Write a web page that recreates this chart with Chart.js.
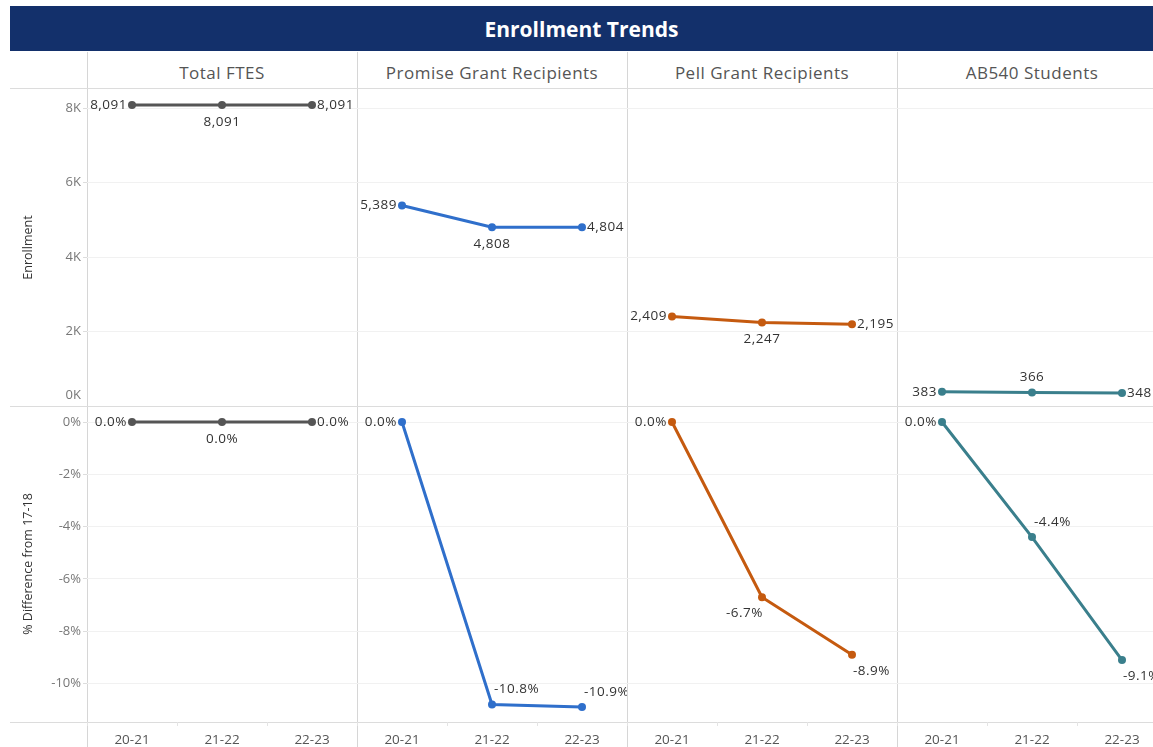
<!DOCTYPE html>
<html lang="en">
<head>
  <meta charset="UTF-8" />
  <title>Enrollment Trends</title>
  <script src="https://cdn.jsdelivr.net/npm/chart.js@4.4.0/dist/chart.umd.min.js"></script>
  <style>
    html,body{margin:0;background:#fff;font-family:"Open Sans",sans-serif}
    #board{position:relative;width:1153px;height:747px;overflow:hidden}
    .title{position:absolute;left:10px;top:6px;width:1143px;height:45px;background:#13306b;color:#fff;
      font-weight:700;font-size:21px;line-height:46px;text-align:center}
    .head{position:absolute;top:52px;width:270px;height:37px;line-height:42px;text-align:center;color:#555;
      font-size:17px;letter-spacing:.5px}
    .vline{position:absolute;width:1px;background:#d6d6d6}
    .hline{position:absolute;height:1px;background:#dcdcdc}
    canvas{position:absolute}
  </style>
</head>
<body>
<div id="board">
  <div class="title">Enrollment Trends</div>
</div>

<script>
// ---- data ----
const years = ['20-21', '21-22', '22-23'];
const groups = ['Total FTES', 'Promise Grant Recipients', 'Pell Grant Recipients', 'AB540 Students'];

const fteEnroll     = [8091, 8091, 8091];
const promiseEnroll = [5389, 4808, 4804];
const pellEnroll    = [2409, 2247, 2195];
const ab540Enroll   = [383, 366, 348];

const ftePct     = [0.0, 0.0, 0.0];
const promisePct = [0.0, -10.8, -10.9];
const pellPct    = [0.0, -6.7, -8.9];
const ab540Pct   = [0.0, -4.4, -9.1];

const enrollTicks = [0, 2000, 4000, 6000, 8000];
const enrollTickLabels = ['0K', '2K', '4K', '6K', '8K'];
const pctTicks = [0, -2, -4, -6, -8, -10];
const pctTickLabels = ['0%', '-2%', '-4%', '-6%', '-8%', '-10%'];

// ---- look ----
const colors = ['#555555', '#2f6fcb', '#c55a0f', '#3a7f8c'];
const topPlaces = [['l','b','r'], ['l','b','r'], ['l','b','r'], ['l','a','r']];
const botPlaces = [['l','b','r'], ['l','ar','ar'], ['l','bl','br'], ['l','ar','br']];

const board = document.getElementById('board');
const COL0 = 87, COLW = 270, AXISW = 77;
const ROWS = [{top: 89, h: 317}, {top: 406, h: 341}];

// frame lines
[87, 357, 627, 897].forEach(x => {
  const d = document.createElement('div'); d.className = 'vline';
  d.style.cssText = `left:${x}px;top:52px;height:695px`; board.appendChild(d);
});
[88, 406, 722].forEach(y => {
  const d = document.createElement('div'); d.className = 'hline';
  d.style.cssText = `left:10px;top:${y}px;width:1143px`; board.appendChild(d);
});
groups.forEach((g, i) => {
  const d = document.createElement('div'); d.className = 'head';
  d.style.left = (COL0 + i * COLW) + 'px'; d.textContent = g; board.appendChild(d);
});

// data labels next to each point
const pointLabels = {
  id: 'pointLabels',
  afterDatasetsDraw(chart, args, opts) {
    const ctx = chart.ctx, meta = chart.getDatasetMeta(0), vals = chart.data.datasets[0].data;
    ctx.save();
    ctx.font = '13.5px "Open Sans"';
    ctx.letterSpacing = '0.5px';
    ctx.fillStyle = '#333';
    ctx.textBaseline = 'middle';
    meta.data.forEach((pt, i) => {
      let x = pt.x, y = pt.y, align = 'center';
      switch (opts.places[i]) {
        case 'l':  x -= 5; align = 'right'; break;
        case 'r':  x += 5; align = 'left'; break;
        case 'b':  y += 17; break;
        case 'a':  y -= 15; break;
        case 'ar': x += 2; y -= 15; align = 'left'; break;
        case 'br': x += 1; y += 16; align = 'left'; break;
        case 'bl': x += 1; y += 16; align = 'right'; break;
      }
      ctx.textAlign = align;
      const v = vals[i];
      ctx.fillText(opts.kind === 'pct' ? v.toFixed(1) + '%' : v.toLocaleString('en-US'), x, y);
    });
    ctx.restore();
  }
};

function makeChart(row, col, values, places) {
  const first = col === 0;
  const left = first ? COL0 - AXISW : COL0 + col * COLW;
  const width = first ? COLW + AXISW : COLW;
  const R = ROWS[row];
  const cv = document.createElement('canvas');
  cv.width = width; cv.height = R.h;
  cv.style.left = left + 'px'; cv.style.top = R.top + 'px';
  board.appendChild(cv);

  const isPct = row === 1;
  const tickVals = isPct ? pctTicks : enrollTicks;
  const tickLbls = isPct ? pctTickLabels : enrollTickLabels;

  new Chart(cv, {
    type: 'line',
    data: {
      labels: years,
      datasets: [{
        data: values, borderColor: colors[col], backgroundColor: colors[col],
        borderWidth: 3, pointRadius: 4, pointBorderWidth: 0, pointHoverRadius: 4,
        tension: 0, clip: false
      }]
    },
    plugins: [pointLabels],
    options: {
      responsive: false, animation: false, events: [],
      layout: {padding: 0, autoPadding: false},
      plugins: {
        legend: {display: false}, tooltip: {enabled: false},
        pointLabels: {places, kind: isPct ? 'pct' : 'num'}
      },
      scales: {
        x: {
          type: 'category', offset: true, display: isPct,
          grid: {offset: true, drawOnChartArea: false, color: '#e4e4e4', tickLength: 4},
          border: {display: false},
          ticks: {color: '#555', font: {size: 13.5, family: '"Open Sans"'}, padding: 6, maxRotation: 0},
          afterFit: s => { s.height = isPct ? 25 : 0; s.paddingLeft = 0; s.paddingRight = 0; }
        },
        y: {
          min: isPct ? -11.47 : 0,
          max: isPct ? 0.612 : 8521,
          afterBuildTicks: s => { s.ticks = tickVals.map(v => ({value: v})); },
          afterFit: s => { s.width = first ? AXISW : 0; s.paddingTop = 0; s.paddingBottom = 0; },
          border: {display: false},
          grid: {color: '#f1f1f1', drawTicks: first, tickLength: 4, tickColor: '#dddddd'},
          ticks: {
            display: first, color: '#777', font: {size: 13, family: '"Open Sans"', lineHeight: 1.7},
            padding: 2,
            // the bottom "0K" label sits lifted above the row divider, as in the original
            callback: (v, i) => (!isPct && v === 0) ? [tickLbls[i], ''] : tickLbls[i]
          },
          title: {
            display: first, text: isPct ? '% Difference from 17-18' : 'Enrollment',
            color: '#333', font: {size: 12.5, family: '"Open Sans"'}, padding: {top: 11, bottom: 0}
          }
        }
      }
    }
  });
}

const enrollSeries = [fteEnroll, promiseEnroll, pellEnroll, ab540Enroll];
const pctSeries = [ftePct, promisePct, pellPct, ab540Pct];
enrollSeries.forEach((s, c) => makeChart(0, c, s, topPlaces[c]));
pctSeries.forEach((s, c) => makeChart(1, c, s, botPlaces[c]));
</script>
</body>
</html>
